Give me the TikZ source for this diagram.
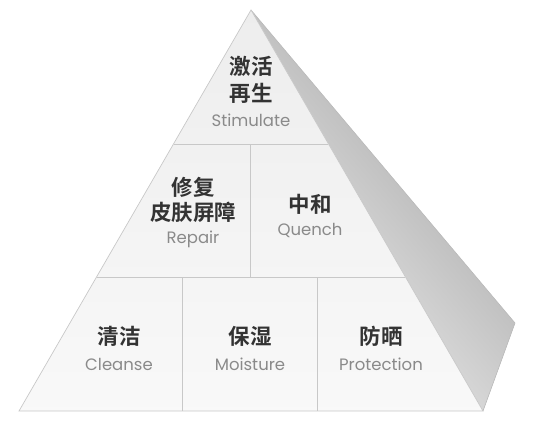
\documentclass[tikz,border=0pt]{standalone}
\usepackage{fontspec}
\setmainfont{Poppins}
\newfontfamily\cjk{Noto Sans CJK SC}[BoldFont={Noto Sans CJK SC Bold}]
\usetikzlibrary{calc}
\definecolor{linec}{HTML}{C8C8C8}
\definecolor{engc}{HTML}{8A8A8A}
\tikzset{
  zh/.style={font=\cjk\bfseries\fontsize{21.5}{23}\selectfont, text=black!80, inner sep=0pt, align=center},
  en/.style={font=\fontsize{16.5}{18}\selectfont, text=engc, inner sep=0pt},
  cell/.style={draw=linec, line width=0.7pt},
}
\begin{document}
\begin{tikzpicture}[x=1pt,y=-1pt]
\useasboundingbox (0,0) rectangle (550,424);
% points
\coordinate (A) at (251,10);
\coordinate (BL) at (19,411);
\coordinate (BR) at (483,411);
\coordinate (SR) at (515,323);
% side face
\shade[left color=gray!75, right color=gray!10, shading angle=-50] (A) -- (SR) -- (BR) -- cycle;
\draw[gray!55, line width=0.6pt] (A) -- (SR) -- (BR);
% front face
\shade[top color=gray!14, bottom color=gray!5] (A) -- (BL) -- (BR) -- cycle;
% row lines
\coordinate (L1) at (174,144);
\coordinate (R1) at (328,144);
\coordinate (L2) at (97,277);
\coordinate (R2) at (405,277);
\draw[cell] (L1) -- (R1);
\draw[cell] (L2) -- (R2);
\draw[cell] (250,144) -- (250,277);
\draw[cell] (182,277) -- (182,411);
\draw[cell] (317,277) -- (317,411);
\draw[cell] (A) -- (BL) -- (BR) -- cycle;
% texts
\node[zh] (t1a) at (251,66) {激活};
\node[zh] (t1b) at (251,93) {再生};
\node[en] (t1c) at (251,120) {Stimulate};
\node[zh] (t2a) at (193,187) {修复};
\node[zh] (t2b) at (193,212) {皮肤屏障};
\node[en] (t2c) at (193,239) {Repair};
\node[zh] (t3a) at (310,204) {中和};
\node[en] (t3c) at (310,230) {Quench};
\node[zh] (t4a) at (119,336) {清洁};
\node[en] (t4c) at (119,364) {Cleanse};
\node[zh] (t5a) at (250,336) {保湿};
\node[en] (t5c) at (250,364) {Moisture};
\node[zh] (t6a) at (381,336) {防晒};
\node[en] (t6c) at (381,364) {Protection};
\end{tikzpicture}
\end{document}
